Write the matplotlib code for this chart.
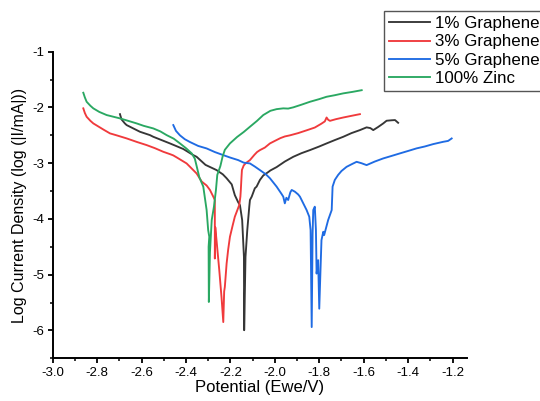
import matplotlib
matplotlib.use("Agg")
import matplotlib.pyplot as plt
from matplotlib.ticker import MultipleLocator

plt.rcParams['font.family'] = ['Liberation Sans', 'DejaVu Sans']
plt.rcParams['axes.unicode_minus'] = False

# Tafel curves: potential (V) vs log current density
g1_x = [-2.697, -2.690, -2.675, -2.667, -2.607, -2.562, -2.547, -2.472, -2.412, -2.367,
        -2.352, -2.312, -2.262, -2.234, -2.217, -2.194, -2.180, -2.165, -2.157, -2.147,
        -2.139, -2.138, -2.132, -2.124, -2.115, -2.112, -2.104, -2.090, -2.082, -2.067,
        -2.052, -2.030, -2.020, -1.992, -1.955, -1.917, -1.880, -1.842, -1.800, -1.767,
        -1.730, -1.692, -1.655, -1.617, -1.587, -1.570, -1.557, -1.535, -1.512, -1.497,
        -1.475, -1.459, -1.445]
g1_y = [-2.12, -2.214, -2.286, -2.316, -2.436, -2.496, -2.526, -2.645, -2.745, -2.855,
        -2.885, -3.03, -3.124, -3.20, -3.27, -3.38, -3.573, -3.70, -3.752, -4.02,
        -4.68, -5.996, -4.68, -4.20, -3.78, -3.66, -3.60, -3.45, -3.42, -3.30,
        -3.22, -3.16, -3.13, -3.07, -2.97, -2.885, -2.82, -2.765, -2.70, -2.645,
        -2.585, -2.526, -2.46, -2.406, -2.357, -2.37, -2.406, -2.35, -2.286, -2.238,
        -2.23, -2.226, -2.275]

g3_x = [-2.862, -2.855, -2.847, -2.830, -2.817, -2.770, -2.742, -2.712, -2.667, -2.620,
        -2.577, -2.540, -2.502, -2.470, -2.457, -2.440, -2.397, -2.367, -2.352, -2.329,
        -2.307, -2.292, -2.277, -2.270, -2.270, -2.268, -2.262, -2.250, -2.240, -2.232,
        -2.228, -2.225, -2.217, -2.210, -2.202, -2.190, -2.180, -2.160, -2.155, -2.153,
        -2.150, -2.148, -2.140, -2.131, -2.112, -2.092, -2.080, -2.067, -2.045, -2.022,
        -2.000, -1.975, -1.955, -1.932, -1.895, -1.857, -1.820, -1.790, -1.775, -1.767,
        -1.760, -1.752, -1.725, -1.692, -1.655, -1.630, -1.617]
g3_y = [-2.016, -2.10, -2.167, -2.24, -2.286, -2.40, -2.465, -2.50, -2.555, -2.62,
        -2.675, -2.73, -2.795, -2.84, -2.86, -2.90, -3.004, -3.124, -3.184, -3.33,
        -3.40, -3.48, -3.60, -3.66, -4.71, -4.15, -4.40, -4.92, -5.40, -5.85,
        -5.30, -5.22, -4.80, -4.55, -4.32, -4.12, -3.96, -3.75, -3.60, -3.48,
        -3.25, -3.12, -3.04, -3.00, -2.944, -2.85, -2.80, -2.765, -2.72, -2.645,
        -2.60, -2.55, -2.52, -2.50, -2.46, -2.41, -2.36, -2.29, -2.25, -2.18,
        -2.22, -2.24, -2.21, -2.18, -2.15, -2.13, -2.12]

g5_x = [-2.457, -2.445, -2.427, -2.405, -2.382, -2.345, -2.307, -2.270, -2.232, -2.200,
        -2.165, -2.140, -2.112, -2.090, -2.067, -2.040, -2.022, -1.992, -1.970, -1.962,
        -1.955, -1.948, -1.940, -1.930, -1.924, -1.910, -1.895, -1.887, -1.872, -1.857,
        -1.845, -1.839, -1.834, -1.830, -1.827, -1.820, -1.815, -1.812, -1.805, -1.800,
        -1.794, -1.790, -1.782, -1.778, -1.760, -1.744, -1.740, -1.730, -1.715, -1.700,
        -1.677, -1.655, -1.632, -1.610, -1.587, -1.550, -1.512, -1.475, -1.437, -1.400,
        -1.362, -1.325, -1.287, -1.242, -1.220, -1.204]
g5_y = [-2.316, -2.42, -2.50, -2.57, -2.62, -2.69, -2.735, -2.80, -2.855, -2.90,
        -2.944, -2.99, -3.004, -3.06, -3.124, -3.20, -3.27, -3.42, -3.55, -3.60,
        -3.72, -3.62, -3.66, -3.52, -3.48, -3.51, -3.56, -3.60, -3.72, -3.84,
        -3.96, -4.20, -5.94, -4.26, -3.84, -3.78, -4.20, -4.98, -4.74, -5.61,
        -4.86, -4.38, -4.23, -4.29, -4.02, -3.84, -3.42, -3.30, -3.21, -3.14,
        -3.065, -3.02, -2.975, -3.00, -3.034, -2.97, -2.914, -2.87, -2.824, -2.78,
        -2.734, -2.70, -2.657, -2.616, -2.60, -2.556]

zn_x = [-2.862, -2.855, -2.847, -2.830, -2.817, -2.790, -2.757, -2.697, -2.660, -2.622,
        -2.590, -2.547, -2.515, -2.487, -2.455, -2.427, -2.400, -2.374, -2.360, -2.352,
        -2.340, -2.322, -2.307, -2.300, -2.295, -2.298, -2.297, -2.292, -2.289, -2.284,
        -2.274, -2.265, -2.259, -2.245, -2.235, -2.225, -2.202, -2.170, -2.140, -2.112,
        -2.080, -2.052, -2.020, -1.992, -1.962, -1.940, -1.917, -1.880, -1.842, -1.800,
        -1.767, -1.730, -1.692, -1.650, -1.609]
zn_y = [-1.736, -1.82, -1.898, -1.97, -2.016, -2.08, -2.136, -2.196, -2.24, -2.286,
        -2.33, -2.376, -2.43, -2.496, -2.56, -2.645, -2.73, -2.824, -2.92, -3.05,
        -3.25, -3.42, -3.84, -4.20, -4.32, -4.50, -5.49, -4.60, -4.38, -4.02,
        -3.78, -3.48, -3.21, -3.05, -2.88, -2.76, -2.645, -2.53, -2.44, -2.346,
        -2.24, -2.136, -2.06, -2.03, -2.016, -2.02, -1.998, -1.95, -1.898, -1.85,
        -1.808, -1.78, -1.747, -1.72, -1.69]

labels = ["1% Graphene", "3% Graphene", "5% Graphene", "100% Zinc"]
colors = ["#363636", "#f03a3c", "#1f6be3", "#2aa862"]

fig = plt.figure(figsize=(5.4, 4.01), dpi=100)
ax = fig.add_axes([0.0975, 0.1065, 0.7665, 0.7645])

for xs, ys, lab, c in zip([g1_x, g3_x, g5_x, zn_x], [g1_y, g3_y, g5_y, zn_y], labels, colors):
    ax.plot(xs, ys, color=c, lw=1.35, label=lab)

ax.set_xlim(-3.0, -1.137)
ax.set_ylim(-6.5, -1.0)
ax.xaxis.set_major_locator(MultipleLocator(0.2))
ax.xaxis.set_minor_locator(MultipleLocator(0.1))
ax.yaxis.set_major_locator(MultipleLocator(1))
ax.yaxis.set_minor_locator(MultipleLocator(0.5))
ax.xaxis.set_major_formatter(plt.FormatStrFormatter('%.1f'))
ax.yaxis.set_major_formatter(plt.FormatStrFormatter('%d'))

ax.spines['top'].set_visible(False)
ax.spines['right'].set_visible(False)
for s in ['left', 'bottom']:
    ax.spines[s].set_linewidth(1.4)
ax.tick_params(which='major', direction='out', length=3.5, width=1.3, labelsize=9.5, pad=2.5)
ax.tick_params(which='minor', direction='out', length=2.5, width=1.1)

ax.set_xlabel("Potential (Ewe/V)", fontsize=12, labelpad=1)
ax.set_ylabel("Log Current Density (log (|I/mA|))", fontsize=11.5, labelpad=4)

leg = fig.legend(loc='upper left', bbox_to_anchor=(0.711, 0.9726), borderaxespad=0,
                 fontsize=12.2, fancybox=False, edgecolor='#555555', framealpha=1,
                 handlelength=2.4, handletextpad=0.3, labelspacing=0.2, borderpad=0.3)
leg.get_frame().set_linewidth(1.0)

fig.savefig("out.png", dpi=100)
